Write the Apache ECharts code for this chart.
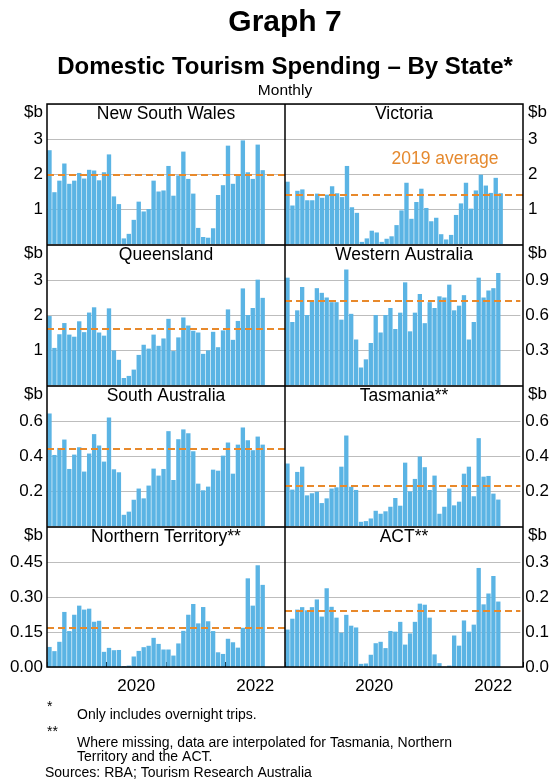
<!DOCTYPE html>
<html><head><meta charset="utf-8">
<script src="https://cdn.jsdelivr.net/npm/echarts@6/dist/echarts.min.js"></script>
<style>html,body{margin:0;padding:0;background:#fff}#c{width:552px;height:780px}</style>
</head><body><div id="c"></div>
<script>
// ---------- DATA ----------
const months = ['Jan-19','Feb-19','Mar-19','Apr-19','May-19','Jun-19','Jul-19','Aug-19','Sep-19','Oct-19','Nov-19','Dec-19',
  'Jan-20','Feb-20','Mar-20','Apr-20','May-20','Jun-20','Jul-20','Aug-20','Sep-20','Oct-20','Nov-20','Dec-20',
  'Jan-21','Feb-21','Mar-21','Apr-21','May-21','Jun-21','Jul-21','Aug-21','Sep-21','Oct-21','Nov-21','Dec-21',
  'Jan-22','Feb-22','Mar-22','Apr-22','May-22','Jun-22','Jul-22','Aug-22','Sep-22','Oct-22','Nov-22','Dec-22'];
const yearCats = ['2019','2020','2021','2022'];
const yearLabels = ['2020','2022'];

const nsw = [2.68,1.48,1.81,2.30,1.72,1.81,2.03,1.87,2.12,2.10,1.82,2.05,2.56,1.36,1.14,0.16,0.29,0.69,1.21,0.93,1.00,1.81,1.50,1.53,2.23,1.38,1.96,2.64,1.86,1.44,0.46,0.20,0.18,0.45,1.40,1.68,2.81,1.72,1.98,2.96,2.05,1.86,2.84,2.11];
const vic = [1.78,1.10,1.52,1.56,1.25,1.25,1.44,1.32,1.41,1.65,1.45,1.34,2.23,1.05,0.89,0.06,0.16,0.38,0.33,0.06,0.15,0.22,0.54,0.96,1.75,0.72,1.20,1.58,1.03,0.65,0.75,0.28,0.13,0.26,0.83,1.16,1.75,1.01,1.53,1.98,1.67,1.46,1.89,1.45];
const qld = [1.97,1.06,1.45,1.77,1.44,1.38,1.82,1.51,2.07,2.22,1.50,1.41,2.19,0.99,0.72,0.20,0.26,0.44,0.86,1.15,1.04,1.44,1.12,1.33,1.89,0.97,1.36,1.93,1.70,1.55,1.50,0.89,0.99,1.52,1.08,1.56,2.16,1.29,1.83,2.76,2.00,2.20,3.01,2.49];
const wa  = [0.92,0.54,0.64,0.84,0.60,0.72,0.83,0.79,0.75,0.71,0.71,0.56,0.99,0.61,0.39,0.15,0.22,0.36,0.60,0.45,0.60,0.66,0.48,0.62,0.88,0.46,0.62,0.78,0.53,0.71,0.66,0.76,0.75,0.86,0.64,0.68,0.77,0.39,0.54,0.92,0.75,0.81,0.83,0.96];
const sa  = [0.643,0.406,0.446,0.494,0.326,0.408,0.450,0.311,0.414,0.525,0.460,0.368,0.620,0.324,0.307,0.064,0.082,0.150,0.214,0.158,0.231,0.328,0.288,0.326,0.542,0.263,0.496,0.552,0.530,0.427,0.242,0.204,0.225,0.322,0.316,0.402,0.477,0.299,0.465,0.563,0.490,0.433,0.511,0.465];
const tas = [0.357,0.208,0.309,0.339,0.175,0.187,0.196,0.131,0.158,0.214,0.221,0.339,0.517,0.224,0.206,0.024,0.028,0.043,0.087,0.070,0.084,0.110,0.160,0.116,0.362,0.198,0.269,0.397,0.336,0.206,0.288,0.070,0.110,0.214,0.118,0.139,0.299,0.339,0.170,0.502,0.282,0.286,0.185,0.151];
const nt  = [0.086,0.068,0.108,0.236,0.154,0.224,0.263,0.246,0.250,0.194,0.198,0.065,0.082,0.072,0.073,0.004,0.006,0.045,0.069,0.085,0.091,0.125,0.099,0.075,0.075,0.049,0.101,0.155,0.224,0.270,0.187,0.257,0.196,0.154,0.063,0.056,0.121,0.106,0.083,0.168,0.380,0.263,0.436,0.352];
const act = [0.107,0.138,0.164,0.171,0.162,0.171,0.193,0.144,0.225,0.172,0.141,0.098,0.149,0.118,0.113,0.009,0.010,0.035,0.068,0.072,0.054,0.103,0.101,0.129,0.064,0.096,0.129,0.181,0.178,0.141,0.036,0.011,0.001,0.004,0.090,0.061,0.133,0.101,0.121,0.283,0.179,0.210,0.260,0.187];

const nswAvg = 1.97, vicAvg = 1.42, qldAvg = 1.62, waAvg = 0.716;
const saAvg = 0.437, tasAvg = 0.234, ntAvg = 0.173, actAvg = 0.157;

// ---------- LAYOUT / STYLE ----------
const FF = '"Liberation Sans", Arial, Helvetica, sans-serif';
const BAR = '#5BB4E4';
const ORANGE = '#E8892B';
const colLeft = [47, 285], colW = 238;
const rowTop = [104, 245, 386, 527], rowH = 140;

const panels = [
  {name:'New South Wales', data:nsw, avg:nswAvg, max:4, step:1, dig:0, col:0, row:0},
  {name:'Victoria', data:vic, avg:vicAvg, max:4, step:1, dig:0, col:1, row:0},
  {name:'Queensland', data:qld, avg:qldAvg, max:4, step:1, dig:0, col:0, row:1},
  {name:'Western Australia', data:wa, avg:waAvg, max:1.2, step:0.3, dig:1, col:1, row:1},
  {name:'South Australia', data:sa, avg:saAvg, max:0.8, step:0.2, dig:1, col:0, row:2},
  {name:'Tasmania**', data:tas, avg:tasAvg, max:0.8, step:0.2, dig:1, col:1, row:2},
  {name:'Northern Territory**', data:nt, avg:ntAvg, max:0.6, step:0.15, dig:2, col:0, row:3},
  {name:'ACT**', data:act, avg:actAvg, max:0.4, step:0.1, dig:1, col:1, row:3}
];

const grid = [], xAxis = [], yAxis = [], series = [], graphic = [];
panels.forEach((p, i) => {
  const left = colLeft[p.col], top = rowTop[p.row];
  const bottomRow = p.row === 3;
  grid.push({left: left, top: top, width: colW, height: rowH, containLabel: false});
  xAxis.push({gridIndex: i, type: 'category', data: months, boundaryGap: true,
    axisLine: {show: false}, axisTick: {show: false}, axisLabel: {show: false}, splitLine: {show: false}});
  yAxis.push({gridIndex: i, type: 'value', min: 0, max: p.max, interval: p.step,
    position: p.col === 0 ? 'left' : 'right',
    axisLine: {show: false}, axisTick: {show: false},
    splitLine: {show: true, lineStyle: {color: '#BDBDBD', width: 1}},
    axisLabel: {margin: p.col === 0 ? 4 : 5, fontSize: 17, color: '#000', fontFamily: FF,
      formatter: v => (v > p.max - 1e-9) ? '' : (v < 1e-9 && !bottomRow) ? '' : v.toFixed(p.dig)}});
  series.push({type: 'bar', xAxisIndex: i, yAxisIndex: i, data: p.data, barCategoryGap: '12%',
    itemStyle: {color: BAR}, silent: true, animation: false,
    markLine: {silent: true, symbol: 'none', animation: false, label: {show: false},
      lineStyle: {color: ORANGE, type: [7, 4], width: 2}, data: [{yAxis: p.avg}]}});
  graphic.push({type: 'text', z: 50, silent: true,
    style: {text: p.name, x: left + colW / 2, y: top + 10, fontSize: 17.5, fontFamily: FF, fill: '#000', align: 'center', verticalAlign: 'middle'}});
  graphic.push({type: 'text', z: 50, silent: true,
    style: {text: '$b', x: p.col === 0 ? left - 4 : left + colW + 5, y: top + 8, fontSize: 17, fontFamily: FF, fill: '#000',
      align: p.col === 0 ? 'right' : 'left', verticalAlign: 'middle'}});
});

// year axes for the bottom row
[0, 1].forEach(c => {
  const gi = grid.length;
  grid.push({left: colLeft[c], top: rowTop[3], width: colW, height: rowH});
  xAxis.push({gridIndex: gi, type: 'category', data: yearCats, boundaryGap: true,
    axisLine: {show: false},
    axisTick: {show: true, inside: true, length: 5, interval: 0, lineStyle: {color: '#000', width: 1}},
    axisLabel: {show: true, interval: (idx, v) => yearLabels.includes(v), margin: 11, fontSize: 17, color: '#000', fontFamily: FF},
    splitLine: {show: false}});
  yAxis.push({gridIndex: gi, type: 'value', show: false, min: 0, max: 1, splitLine: {show: false}});
});

// frame lines
const L = colLeft[0], R = colLeft[1] + colW, T = rowTop[0], B = rowTop[3] + rowH;
const frameStyle = {stroke: '#000', lineWidth: 1.5};
graphic.push({type: 'rect', z: 100, silent: true, shape: {x: L, y: T, width: R - L, height: B - T}, style: {fill: 'none', stroke: '#000', lineWidth: 1.5}});
graphic.push({type: 'line', z: 100, silent: true, shape: {x1: colLeft[1], y1: T, x2: colLeft[1], y2: B}, style: frameStyle});
[1, 2, 3].forEach(r => graphic.push({type: 'line', z: 100, silent: true, shape: {x1: L, y1: rowTop[r], x2: R, y2: rowTop[r]}, style: frameStyle}));

// titles and notes
const txt = (text, x, y, size, opts) => graphic.push(Object.assign({type: 'text', z: 50, silent: true,
  style: Object.assign({text: text, x: x, y: y, fontSize: size, fontFamily: FF, fill: '#000', align: 'left', verticalAlign: 'middle'}, opts || {})}));
txt('Graph 7', 285, 23, 30, {align: 'center', fontWeight: 'bold'});
txt('Domestic Tourism Spending \u2013 By State*', 285, 67, 24, {align: 'center', fontWeight: 'bold'});
txt('Monthly', 285, 91, 15.5, {align: 'center'});
txt('2019 average', 445, 159, 17.5, {align: 'center', fill: '#E5892E'});
txt('*', 47, 707, 14);
txt('Only includes overnight trips.', 77, 715, 14);
txt('**', 47, 732, 14);
txt('Where missing, data are interpolated for Tasmania, Northern', 77, 743, 14);
txt('Territory and the ACT.', 77, 757, 14);
txt('Sources: RBA; Tourism Research Australia', 45, 773, 14);

const chart = echarts.init(document.getElementById('c'), null, {renderer: 'canvas'});
chart.setOption({animation: false, backgroundColor: '#fff', grid, xAxis, yAxis, series, graphic});
</script></body></html>
